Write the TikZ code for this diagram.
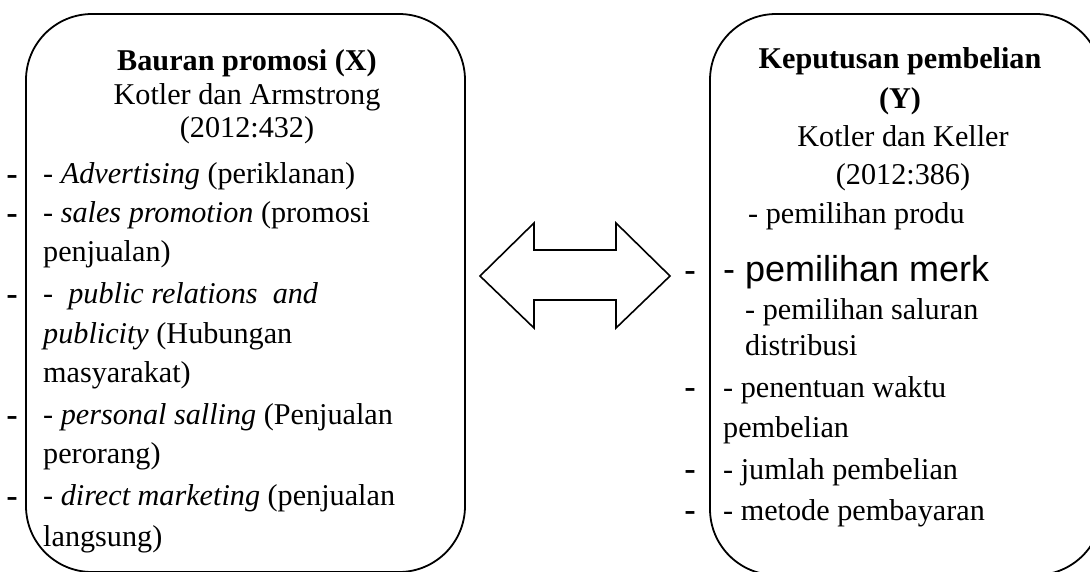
\documentclass[tikz,border=0pt]{standalone}
\usepackage{fontspec}
\setmainfont{Liberation Serif}
\newfontfamily\sansf{Liberation Sans}
\begin{document}
\begin{tikzpicture}[x=1pt,y=-1pt,
  box/.style={draw=black, line width=1.8pt, rounded corners=66pt, inner sep=0pt},
  txt/.style={font=\fontsize{30.2}{38}\selectfont, inner sep=0pt, anchor=base west},
  hd/.style={txt, anchor=base},
  sanstxt/.style={font=\sansf\fontsize{36}{40}\selectfont, inner sep=0pt, anchor=base west},
  dsh/.style={sanstxt},
  dblarrow/.style={draw=black, line width=1.6pt, line join=miter}]
\useasboundingbox (0,0) rectangle (1090,571);
\clip (0,0) rectangle (1090,571);
% boxes
\node[box, minimum width=439pt, minimum height=558pt] (X) at (245.5,293) {};
\node[box, minimum width=392pt, minimum height=561pt] (Y) at (906,294.5) {};
% double arrow
\coordinate (aL) at (480,276);
\coordinate (aR) at (670,276);
\draw[dblarrow] (aL) -- (534,223) -- (534,250) -- (616,250) -- (616,223) -- (aR)
  -- (616,328) -- (616,300) -- (534,300) -- (534,328) -- cycle;
% left box text
\node[hd] (x1) at (247,70) {\bfseries Bauran promosi (X)};
\node[hd] (x2) at (247,104) {Kotler dan Armstrong};
\node[hd] (x3) at (247,137) {(2012:432)};
\node[txt] (x4) at (43,183) {- \textit{Advertising} (periklanan)};
\node[txt] (x5) at (43,222) {- \textit{sales promotion} (promosi};
\node[txt] (x6) at (43,261) {penjualan)};
\node[txt] (x7) at (43,303) {-\ \ \textit{public relations\ \ and}};
\node[txt] (x8) at (43,343) {\textit{publicity} (Hubungan};
\node[txt] (x9) at (43,382) {masyarakat)};
\node[txt] (x10) at (43,424) {- \textit{personal salling} (Penjualan};
\node[txt] (x11) at (43,463) {perorang)};
\node[txt] (x12) at (43,505) {- \textit{direct marketing} (penjualan};
\node[txt] (x13) at (43,546) {langsung)};
% left outer dashes
\node[dsh] (dx1) at (6,186) {-};
\node[dsh] (dx2) at (6,225) {-};
\node[dsh] (dx3) at (6,306) {-};
\node[dsh] (dx4) at (6,427) {-};
\node[dsh] (dx5) at (6,508) {-};
% right box text
\node[hd] (y1) at (900,68) {\bfseries Keputusan pembelian};
\node[hd] (y2) at (900,108) {\bfseries (Y)};
\node[hd] (y3) at (903,146) {Kotler dan Keller};
\node[hd] (y4) at (903,184) {(2012:386)};
\node[txt] (y5) at (748,223) {- pemilihan produ};
\node[sanstxt] (y6) at (723,281) {- pemilihan merk};
\node[txt] (y7) at (745,319) {- pemilihan saluran};
\node[txt] (y8) at (745,355) {distribusi};
\node[txt] (y9) at (723,397) {- penentuan waktu};
\node[txt] (y10) at (723,437) {pembelian};
\node[txt] (y11) at (723,479) {- jumlah pembelian};
\node[txt] (y12) at (723,520) {- metode pembayaran};
% right outer dashes
\node[dsh] (dy1) at (684,282) {-};
\node[dsh] (dy2) at (684,399) {-};
\node[dsh] (dy3) at (684,481) {-};
\node[dsh] (dy4) at (684,522) {-};
\end{tikzpicture}
\end{document}
